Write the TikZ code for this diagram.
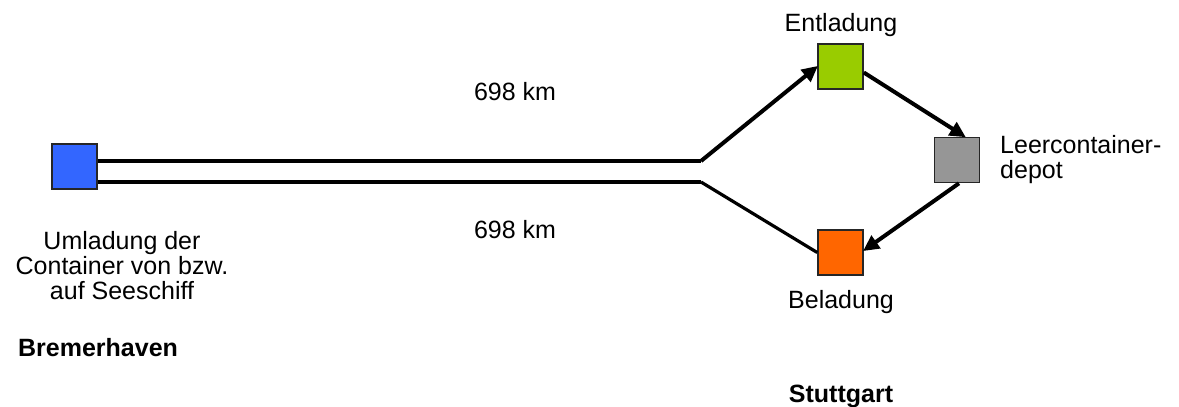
\documentclass[tikz,border=0pt]{standalone}
\usepackage{fontspec}
\setmainfont{Liberation Sans}
\usetikzlibrary{arrows.meta}
\definecolor{cblue}{HTML}{3366FF}
\definecolor{cgreen}{HTML}{99CC00}
\definecolor{cgray}{HTML}{969696}
\definecolor{corange}{HTML}{FF6600}
\tikzset{
  box/.style={draw=black!85, line width=1.6pt, minimum size=45pt, inner sep=0pt},
  lbl/.style={inner sep=0pt, font=\fontsize{25}{25}\selectfont},
  route/.style={line width=4pt, line join=miter},
  arr/.style={line width=4pt, -{Triangle[length=16pt,width=15pt]}, shorten >=-1pt},
}
\begin{document}
\begin{tikzpicture}[x=1pt,y=-1pt]
\useasboundingbox[fill=white] (0,0) rectangle (1179,407);
% squares
\node[box, fill=cblue]   (bh)  at (74.5,166.5) {};
\node[box, fill=cgreen]  (ent) at (840.5,66.5) {};
\node[box, fill=cgray]   (dep) at (957,160) {};
\node[box, fill=corange] (bel) at (840.5,252.5) {};
% junction coordinates
\coordinate (ju) at (701,161);
\coordinate (jl) at (701,182);
\coordinate (bu) at (bh.east |- ju);
\coordinate (bl) at (bh.east |- jl);
% routes
\draw[route] (bu) -- (ju);
\draw[arr] (ju) -- (ent.west);
\draw[route] (bl) -- (jl);
\draw[route, line width=3.2pt] (jl) -- (bel.west);
\draw[arr] ([yshift=-6pt]ent.east) -- ([xshift=8pt]dep.north);
\draw[arr] ([xshift=2pt]dep.south) -- ([yshift=2pt]bel.east);
% labels
\node[lbl, anchor=base] (tent) at (841,31) {Entladung};
\node[lbl, anchor=base] (tbel) at (841,308) {Beladung};
\node[lbl, anchor=north west, align=left] (tdep) at (1000,135) {Leercontainer-\\depot};
\node[lbl, anchor=base] (km1) at (515,100) {698 km};
\node[lbl, anchor=base] (km2) at (515,238) {698 km};
\node[lbl, anchor=north, align=center] (tum) at (122,231) {Umladung der\\Container von bzw.\\auf Seeschiff};
\node[lbl, anchor=base west, font=\fontsize{25}{25}\selectfont\bfseries] (tbrem) at (18,356) {Bremerhaven};
\node[lbl, anchor=base, font=\fontsize{25}{25}\selectfont\bfseries] (tstu) at (841,402) {Stuttgart};
\end{tikzpicture}
\end{document}
